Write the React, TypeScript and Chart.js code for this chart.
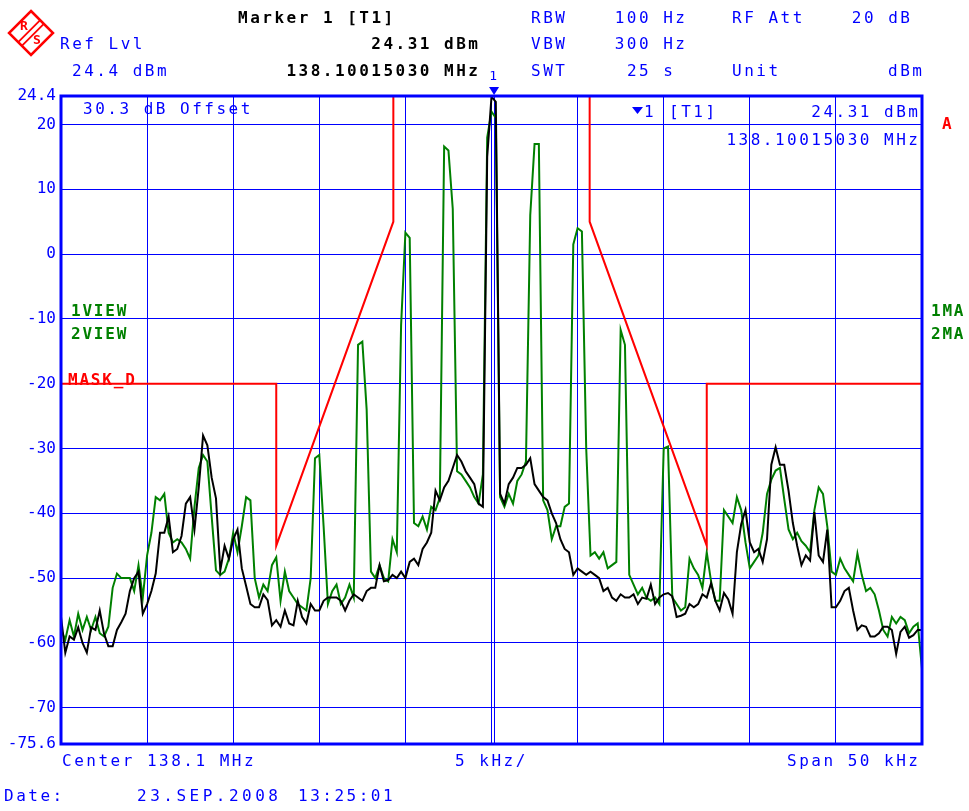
import React, { useEffect, useRef } from "react";
import { Chart, registerables } from "chart.js";

Chart.register(...registerables);

// Frequency grid of both traces: offset from centre (kHz)
const START_KHZ = -25;
const STEP_KHZ = 0.25;

// Trace 1 (1VIEW, green) level in dBm, one value per 0.25 kHz from -25 to +25 kHz
const VIEW1_DBM = [
  -58, -59.5, -56.5, -59, -55.5, -58, -56, -58, -56, -58.5,
  -59, -57.5, -51.5, -49.3, -50, -50, -50, -52, -48, -53,
  -46.5, -43, -37.5, -38, -37, -43, -44.5, -44, -44.5, -45.5,
  -47, -39, -33, -31, -32, -40.5, -48.8, -49.5, -49, -47,
  -43, -46, -42, -37.5, -38, -50, -53, -51, -52, -48,
  -46.8, -53.5, -49, -52, -53, -54, -54.5, -55, -50, -31.5,
  -31, -42, -54, -52, -51, -54, -53, -51, -53, -14,
  -13.5, -24, -49, -50, -48, -50, -50.5, -44, -46, -11,
  3.3, 2.5, -41.5, -42, -40.5, -42.5, -39, -39.5, -37.6, 16.6,
  16, 7, -33.5, -34, -35, -36, -37.5, -38.5, -34, 18,
  22, 21, -37.5, -39, -37, -38.5, -35, -34, -32, 6,
  17, 17, -38, -39.5, -44, -42, -42, -39, -38.5, 1.5,
  4, 3.5, -30, -46.5, -46, -47, -46, -48.5, -48, -47.5,
  -11.7, -14, -49.5, -51, -52.5, -51.5, -53, -53.5, -53, -54,
  -30, -29.7, -53, -54, -55, -54.5, -47, -48.5, -49.5, -51.5,
  -46, -50.5, -53.5, -53.5, -39.5, -40.5, -41.5, -37.5, -39.5, -44.5,
  -48.5, -47.5, -46.5, -43, -37, -34.8, -33.4, -33, -37.8, -42.5,
  -44, -43, -44.3, -45, -46, -39.5, -36, -37, -42, -49,
  -49.5, -47, -48.5, -49.5, -50.5, -46.2, -49.5, -52, -51.5, -52.5,
  -55, -58, -59, -56, -57, -56, -56.5, -58.5, -57.5, -57,
  -64,
];

// Trace 2 (2VIEW, black) level in dBm, same frequency grid
const VIEW2_DBM = [
  -56, -61.5, -59, -59.5, -57.6, -60, -61.5, -57.6, -58, -55,
  -58.6, -60.5, -60.5, -58, -56.8, -55.5, -52, -50, -49, -55.5,
  -54, -52, -49.3, -43, -43, -40.5, -46, -45.5, -43.5, -38.5,
  -37.5, -42.5, -36, -28, -29.5, -34.5, -37.7, -48.8, -45, -47,
  -44, -42.5, -48.5, -51.2, -54, -54.5, -54.5, -52.5, -53.4, -57.3,
  -56.5, -57.5, -55, -57, -57.3, -53.5, -56, -57, -54, -55,
  -55, -53.5, -53, -53, -53, -53.5, -55, -53.5, -52.5, -53,
  -53.5, -52, -51.5, -51.5, -48, -50.5, -50.3, -49.5, -50, -49,
  -50, -47.5, -47, -48, -45.5, -44.5, -43, -36.5, -38, -36,
  -35, -33, -31, -32, -33.5, -34.5, -35.5, -38.5, -39, 15,
  24.3, 23.5, -37, -38.5, -35.5, -34.5, -33, -33, -32.5, -31.5,
  -35.5, -36.5, -37.5, -38, -40, -41.5, -44, -45.5, -46, -49.5,
  -48.5, -49, -49.5, -49, -49.5, -50, -52, -51.5, -53, -53.5,
  -52.5, -53, -53, -52.5, -54, -53, -53.2, -51, -54, -53,
  -52.5, -52.3, -52.8, -56, -55.8, -55.5, -54, -54.5, -54, -52.5,
  -53, -50.8, -53.5, -55, -52.3, -53.3, -55.5, -46, -41.7, -39.5,
  -44.5, -46, -45.5, -47.5, -44, -32.5, -29.8, -32.5, -32.5, -36.5,
  -41.5, -45, -48, -46.5, -47.3, -39.8, -46.5, -47.5, -42.5, -54.5,
  -54.5, -53.5, -52, -51.5, -55, -58, -57.3, -57.5, -59, -59,
  -58.5, -57.5, -57.5, -58, -61.7, -58.3, -57.5, -59.2, -58.8, -58,
  -58,
];

// Limit line MASK_D
const MASK_LEFT_KHZ = [-25, -12.5, -12.5, -5.7, -5.7];
const MASK_LEFT_DBM = [-20, -20, -45, 5, 24.4];
const MASK_RIGHT_KHZ = [5.7, 5.7, 12.5, 12.5, 25];
const MASK_RIGHT_DBM = [24.4, 5, -45, -20, -20];

// Axis
const Y_TICKS = [24.4, 20, 10, 0, -10, -20, -30, -40, -50, -60, -70, -75.6];
const Y_MIN = -75.6;
const Y_MAX = 24.4;
const X_MIN = -25;
const X_MAX = 25;
const X_DIV = 5;
const MARKER_KHZ = 0.15;

const BLUE = "#0000ff";
const RED = "#ff0000";
const GREEN = "#008000";
const BLACK = "#000000";
const FONT = '"DejaVu Sans Mono", "Liberation Mono", monospace';

function txt(
  ctx: CanvasRenderingContext2D,
  s: string,
  x: number,
  y: number,
  color: string,
  align: CanvasTextAlign = "left",
  bold = false,
  size = 16,
  spacing = 2.5
) {
  ctx.save();
  ctx.font = `${bold ? "bold " : ""}${size}px ${FONT}`;
  (ctx as any).letterSpacing = `${spacing}px`;
  ctx.fillStyle = color;
  ctx.textBaseline = "middle";
  ctx.textAlign = align;
  ctx.fillText(s, align === "right" ? x + spacing : x, y);
  ctx.restore();
}

export default function App() {
  const ref = useRef<HTMLCanvasElement>(null);

  useEffect(() => {
    const canvas = ref.current!;
    const onGrid = (ys: number[]) =>
      ys.map((y, i) => ({ x: START_KHZ + i * STEP_KHZ, y }));
    const zip = (xs: number[], ys: number[]) =>
      xs.map((x, i) => ({ x, y: ys[i] }));

    const overlay = {
      id: "overlay",
      beforeDatasetsDraw(chart: any) {
        const { ctx, chartArea } = chart;
        const xs = chart.scales.x;
        const mx = Math.round(xs.getPixelForValue(MARKER_KHZ)) + 0.5;
        ctx.save();
        ctx.strokeStyle = BLUE;
        ctx.lineWidth = 1;
        ctx.beginPath();
        ctx.moveTo(mx, chartArea.top);
        ctx.lineTo(mx, chartArea.bottom);
        ctx.stroke();
        ctx.restore();
      },
      afterDatasetsDraw(chart: any) {
        const { ctx, chartArea } = chart;
        ctx.save();
        ctx.strokeStyle = BLUE;
        ctx.lineWidth = 3;
        ctx.strokeRect(
          chartArea.left,
          chartArea.top,
          chartArea.right - chartArea.left,
          chartArea.bottom - chartArea.top
        );
        ctx.restore();
      },
      afterDraw(chart: any) {
        const { ctx } = chart;
        const xs = chart.scales.x;
        // R&S logo
        ctx.save();
        const cx = 31, cy = 33, r = 22;
        ctx.strokeStyle = RED;
        ctx.lineWidth = 2.5;
        ctx.beginPath();
        ctx.moveTo(cx, cy - r);
        ctx.lineTo(cx + r, cy);
        ctx.lineTo(cx, cy + r);
        ctx.lineTo(cx - r, cy);
        ctx.closePath();
        ctx.stroke();
        ctx.lineWidth = 1.8;
        for (const o of [-1.8, 1.8]) {
          ctx.beginPath();
          ctx.moveTo(cx - r / 2 + o, cy + r / 2 + o);
          ctx.lineTo(cx + r / 2 + o, cy - r / 2 + o);
          ctx.stroke();
        }
        ctx.fillStyle = RED;
        ctx.font = `bold 13px ${FONT}`;
        ctx.textAlign = "center";
        ctx.textBaseline = "middle";
        ctx.fillText("R", cx - 7, cy - 6);
        ctx.fillText("S", cx + 6, cy + 8);
        ctx.restore();

        // header
        txt(ctx, "Marker 1 [T1]", 238, 19, BLACK, "left", true);
        txt(ctx, "Ref Lvl", 60, 45, BLUE);
        txt(ctx, "24.31 dBm", 478, 45, BLACK, "right", true);
        txt(ctx, "24.4 dBm", 72, 72, BLUE);
        txt(ctx, "138.10015030 MHz", 478, 72, BLACK, "right", true);
        txt(ctx, "RBW", 531, 19, BLUE);
        txt(ctx, "100 Hz", 685, 19, BLUE, "right");
        txt(ctx, "RF Att", 732, 19, BLUE);
        txt(ctx, "20 dB", 910, 19, BLUE, "right");
        txt(ctx, "VBW", 531, 45, BLUE);
        txt(ctx, "300 Hz", 685, 45, BLUE, "right");
        txt(ctx, "SWT", 531, 72, BLUE);
        txt(ctx, "25 s", 673, 72, BLUE, "right");
        txt(ctx, "Unit", 732, 72, BLUE);
        txt(ctx, "dBm", 922, 72, BLUE, "right");

        // marker 1 symbol on top edge
        const mx = xs.getPixelForValue(MARKER_KHZ);
        txt(ctx, "1", mx - 1, 77, BLUE, "center", false, 13, 0);
        ctx.save();
        ctx.fillStyle = BLUE;
        ctx.beginPath();
        ctx.moveTo(mx - 5, 87);
        ctx.lineTo(mx + 5, 87);
        ctx.lineTo(mx, 95);
        ctx.closePath();
        ctx.fill();
        ctx.restore();

        // inside the diagram
        txt(ctx, "30.3 dB Offset", 83, 110, BLUE);
        ctx.save();
        ctx.fillStyle = BLUE;
        ctx.beginPath();
        ctx.moveTo(632, 107);
        ctx.lineTo(643, 107);
        ctx.lineTo(637.5, 114);
        ctx.closePath();
        ctx.fill();
        ctx.restore();
        txt(ctx, "1", 644, 113, BLUE);
        txt(ctx, "[T1]", 669, 113, BLUE);
        txt(ctx, "24.31 dBm", 918, 113, BLUE, "right");
        txt(ctx, "138.10015030 MHz", 918, 141, BLUE, "right");
        txt(ctx, "A", 942, 125, RED, "left", true);
        txt(ctx, "1VIEW", 71, 312, GREEN, "left", true, 16, 1.8);
        txt(ctx, "2VIEW", 71, 335, GREEN, "left", true, 16, 1.8);
        txt(ctx, "1MA", 931, 312, GREEN, "left", true, 16, 1.8);
        txt(ctx, "2MA", 931, 335, GREEN, "left", true, 16, 1.8);
        txt(ctx, "MASK_D", 68, 381, RED, "left", true, 16, 1.8);

        // footer
        txt(ctx, "Center 138.1 MHz", 62, 762, BLUE);
        txt(ctx, "5 kHz/", 455, 762, BLUE);
        txt(ctx, "Span 50 kHz", 918, 762, BLUE, "right");
        txt(ctx, "Date:", 4, 797, BLUE);
        txt(ctx, "23.SEP.2008", 137, 797, BLUE, "left", false, 16, 3.5);
        txt(ctx, "13:25:01", 298, 797, BLUE);
      },
    };

    const chart = new Chart(canvas, {
      type: "line",
      data: {
        datasets: [
          {
            label: "MASK_D",
            data: zip(MASK_LEFT_KHZ, MASK_LEFT_DBM),
            borderColor: RED,
            borderWidth: 2,
            pointRadius: 0,
            order: 0,
          },
          {
            label: "MASK_D ",
            data: zip(MASK_RIGHT_KHZ, MASK_RIGHT_DBM),
            borderColor: RED,
            borderWidth: 2,
            pointRadius: 0,
            order: 0,
          },
          {
            label: "2VIEW",
            data: onGrid(VIEW2_DBM),
            borderColor: BLACK,
            borderWidth: 2,
            pointRadius: 0,
            order: 1,
          },
          {
            label: "1VIEW",
            data: onGrid(VIEW1_DBM),
            borderColor: GREEN,
            borderWidth: 2,
            pointRadius: 0,
            order: 2,
          },
        ],
      },
      options: {
        responsive: false,
        animation: false,
        devicePixelRatio: 1,
        layout: { padding: { left: 0, right: 47, top: 96, bottom: 67 } },
        plugins: {
          legend: { display: false },
          tooltip: { enabled: false },
        },
        elements: { line: { tension: 0 }, point: { radius: 0 } },
        scales: {
          x: {
            type: "linear",
            min: X_MIN,
            max: X_MAX,
            ticks: { display: false, stepSize: X_DIV },
            grid: { color: BLUE, lineWidth: 1, drawTicks: false },
            border: { display: false },
            afterFit: (s: any) => {
              s.height = 0;
            },
          },
          y: {
            type: "linear",
            min: Y_MIN,
            max: Y_MAX,
            afterBuildTicks: (s: any) => {
              s.ticks = Y_TICKS.map((v) => ({ value: v }));
            },
            ticks: {
              autoSkip: false,
              color: BLUE,
              font: { family: FONT, size: 16 },
              padding: 5,
              callback: (v: any) => String(v),
            },
            grid: {
              color: (c: any) =>
                c.tick && (c.tick.value === Y_MAX || c.tick.value === Y_MIN)
                  ? "rgba(0,0,0,0)"
                  : BLUE,
              lineWidth: 1,
              drawTicks: false,
            },
            border: { display: false },
            afterFit: (s: any) => {
              s.width = 61;
            },
          },
        },
      },
      plugins: [overlay],
    } as any);

    return () => chart.destroy();
  }, []);

  return (
    <div
      style={{
        position: "absolute",
        left: 0,
        top: 0,
        width: 969,
        height: 811,
        background: "#ffffff",
      }}
    >
      <canvas ref={ref} width={969} height={811} style={{ display: "block" }} />
    </div>
  );
}
